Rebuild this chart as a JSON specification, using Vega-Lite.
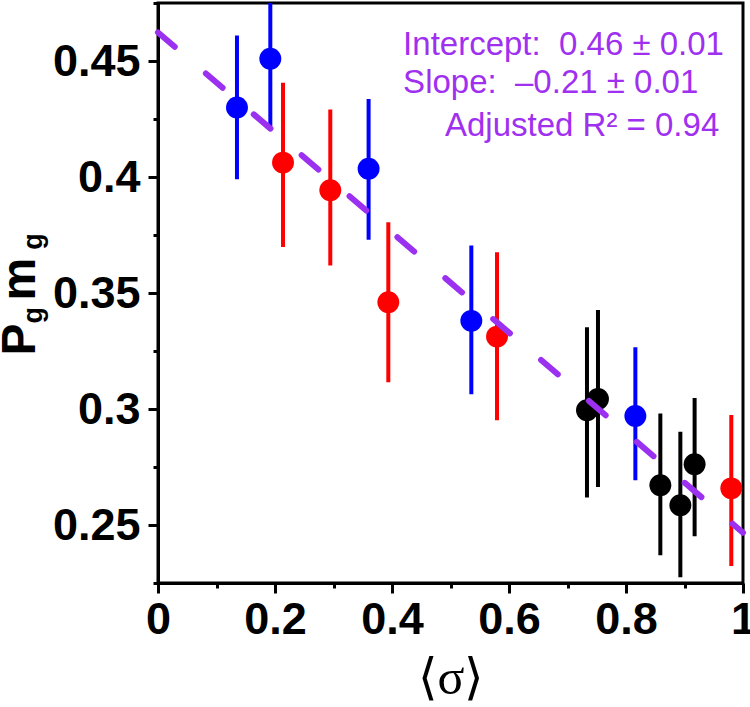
{
  "$schema": "https://vega.github.io/schema/vega-lite/v6.json",
  "width": 585,
  "height": 580,
  "autosize": {"type": "none"},
  "padding": {"left": 158, "top": 3, "right": 7, "bottom": 124},
  "background": "white",
  "config": {
    "view": {"stroke": "black", "strokeWidth": 3},
    "axis": {"grid": false, "domainColor": "black", "domainWidth": 3, "tickColor": "black", "tickWidth": 3, "labelColor": "black", "labelFont": "Liberation Sans", "labelFontWeight": "bold", "labelFontSize": 45, "labelOverlap": false, "labelFlush": false}
  },
  "datasets": {
    "points": [
      {"set": "set1", "sigma": 0.135, "pm": 0.430, "lo": 0.399, "hi": 0.461},
      {"set": "set1", "sigma": 0.192, "pm": 0.451, "lo": 0.422, "hi": 0.481},
      {"set": "set1", "sigma": 0.360, "pm": 0.4036, "lo": 0.373, "hi": 0.4336},
      {"set": "set1", "sigma": 0.5356, "pm": 0.338, "lo": 0.3064, "hi": 0.3705},
      {"set": "set1", "sigma": 0.816, "pm": 0.297, "lo": 0.2693, "hi": 0.3266},
      {"set": "set2", "sigma": 0.2137, "pm": 0.4062, "lo": 0.3698, "hi": 0.4406},
      {"set": "set2", "sigma": 0.2945, "pm": 0.3943, "lo": 0.3619, "hi": 0.4291},
      {"set": "set2", "sigma": 0.3937, "pm": 0.346, "lo": 0.3115, "hi": 0.3805},
      {"set": "set2", "sigma": 0.5795, "pm": 0.3312, "lo": 0.2952, "hi": 0.3676},
      {"set": "set2", "sigma": 0.980, "pm": 0.2658, "lo": 0.2323, "hi": 0.2974},
      {"set": "set3", "sigma": 0.7333, "pm": 0.2995, "lo": 0.2618, "hi": 0.3352},
      {"set": "set3", "sigma": 0.7521, "pm": 0.3043, "lo": 0.2664, "hi": 0.3427},
      {"set": "set3", "sigma": 0.8587, "pm": 0.2671, "lo": 0.2370, "hi": 0.2981},
      {"set": "set3", "sigma": 0.8929, "pm": 0.2585, "lo": 0.2275, "hi": 0.2902},
      {"set": "set3", "sigma": 0.9173, "pm": 0.2762, "lo": 0.2452, "hi": 0.3047}
    ],
    "fit": [
      {"sigma": 0, "pm": 0.4623},
      {"sigma": 1, "pm": 0.2467}
    ]
  },
  "layer": [
    {
      "data": {"name": "points"},
      "mark": {"type": "rule", "strokeWidth": 4, "clip": true},
      "encoding": {
        "x": {"field": "sigma", "type": "quantitative", "scale": {"domain": [0, 1], "nice": false, "zero": false},
          "axis": {
            "values": [0, 0.1, 0.2, 0.3, 0.4, 0.5, 0.6, 0.7, 0.8, 0.9, 1],
            "labelExpr": "abs(datum.value*5 - round(datum.value*5)) < 0.01 ? format(datum.value, '.1~f') : ''",
            "tickSize": {"condition": {"test": "abs(datum.value*5 - round(datum.value*5)) < 0.01", "value": 10}, "value": 5},
            "labelPadding": 4,
            "title": "⟨σ⟩", "titleFont": "Liberation Serif", "titleFontSize": 50, "titleFontWeight": "normal", "titleColor": "black", "titleBaseline": "alphabetic", "titleY": 110
          }},
        "y": {"field": "lo", "type": "quantitative", "scale": {"domain": [0.225, 0.475], "nice": false, "zero": false},
          "axis": {
            "values": [0.225, 0.25, 0.275, 0.3, 0.325, 0.35, 0.375, 0.4, 0.425, 0.45, 0.475],
            "labelExpr": "abs(datum.value*20 - round(datum.value*20)) < 0.01 ? format(datum.value, '.2~f') : ''",
            "tickSize": {"condition": {"test": "abs(datum.value*20 - round(datum.value*20)) < 0.01", "value": 10}, "value": 5},
            "labelPadding": 8,
            "title": null
          }},
        "y2": {"field": "hi"},
        "color": {"field": "set", "type": "nominal", "scale": {"domain": ["set1", "set2", "set3"], "range": ["#0000ff", "#ff0000", "#000000"]}, "legend": null}
      }
    },
    {
      "data": {"name": "points"},
      "mark": {"type": "circle", "size": 480, "opacity": 1},
      "encoding": {
        "x": {"field": "sigma", "type": "quantitative"},
        "y": {"field": "pm", "type": "quantitative"},
        "color": {"field": "set", "type": "nominal", "scale": {"domain": ["set1", "set2", "set3"], "range": ["#0000ff", "#ff0000", "#000000"]}, "legend": null}
      }
    },
    {
      "data": {"name": "fit"},
      "mark": {"type": "line", "color": "#9b30f0", "strokeWidth": 6, "strokeDash": [22, 41], "strokeCap": "round"},
      "encoding": {
        "x": {"field": "sigma", "type": "quantitative"},
        "y": {"field": "pm", "type": "quantitative"}
      }
    },
    {
      "data": {"values": [{"label": "Intercept:\u00a0 0.46 ± 0.01"}]},
      "mark": {"type": "text", "font": "Liberation Sans", "fontSize": 33, "color": "#a030f0", "align": "left", "baseline": "alphabetic"},
      "encoding": {"x": {"datum": 0.419}, "y": {"datum": 0.4526}, "text": {"field": "label"}}
    },
    {
      "data": {"values": [{"label": "Slope:\u00a0 –0.21 ± 0.01"}]},
      "mark": {"type": "text", "font": "Liberation Sans", "fontSize": 33, "color": "#a030f0", "align": "left", "baseline": "alphabetic"},
      "encoding": {"x": {"datum": 0.419}, "y": {"datum": 0.4361}, "text": {"field": "label"}}
    },
    {
      "data": {"values": [{"label": "Adjusted R² = 0.94"}]},
      "mark": {"type": "text", "font": "Liberation Sans", "fontSize": 33, "color": "#a030f0", "align": "left", "baseline": "alphabetic"},
      "encoding": {"x": {"datum": 0.4906}, "y": {"datum": 0.4177}, "text": {"field": "label"}}
    },
    {
      "data": {"values": [{"label": "P"}]},
      "mark": {"type": "text", "font": "Liberation Sans", "fontWeight": "bold", "fontSize": 48, "color": "black", "align": "left", "baseline": "alphabetic", "angle": 270},
      "encoding": {"x": {"datum": -0.2111}, "y": {"datum": 0.3231}, "text": {"field": "label"}}
    },
    {
      "data": {"values": [{"label": "g"}]},
      "mark": {"type": "text", "font": "Liberation Sans", "fontWeight": "bold", "fontSize": 27, "color": "black", "align": "left", "baseline": "alphabetic", "angle": 270},
      "encoding": {"x": {"datum": -0.1991}, "y": {"datum": 0.3369}, "text": {"field": "label"}}
    },
    {
      "data": {"values": [{"label": "m"}]},
      "mark": {"type": "text", "font": "Liberation Sans", "fontWeight": "bold", "fontSize": 48, "color": "black", "align": "left", "baseline": "alphabetic", "angle": 270},
      "encoding": {"x": {"datum": -0.2111}, "y": {"datum": 0.3468}, "text": {"field": "label"}}
    },
    {
      "data": {"values": [{"label": "g"}]},
      "mark": {"type": "text", "font": "Liberation Sans", "fontWeight": "bold", "fontSize": 27, "color": "black", "align": "left", "baseline": "alphabetic", "angle": 270},
      "encoding": {"x": {"datum": -0.1991}, "y": {"datum": 0.3686}, "text": {"field": "label"}}
    }
  ]
}
